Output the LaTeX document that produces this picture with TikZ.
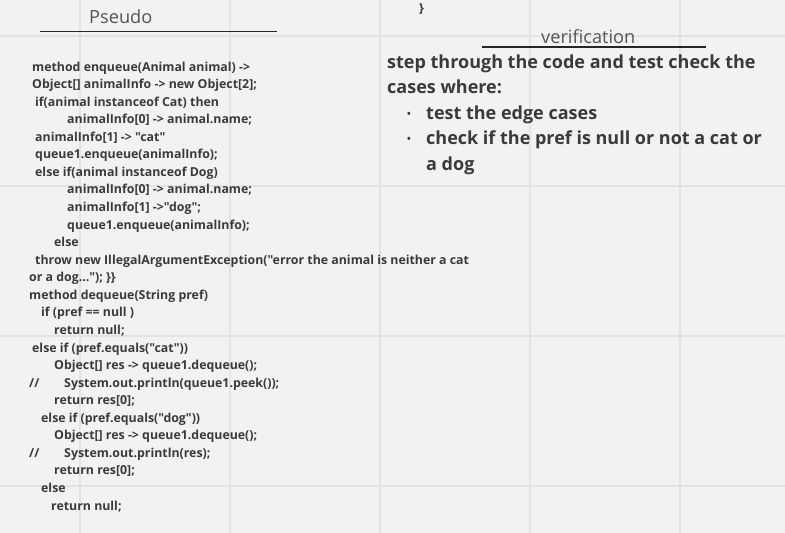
\documentclass[tikz,border=0pt]{standalone}
\usepackage{fontspec}
\setmainfont{Open Sans}[Ligatures=TeXOff]
\definecolor{boardbg}{HTML}{F2F2F2}
\definecolor{gridgray}{HTML}{E3E3E3}
\definecolor{codegray}{HTML}{3A3A3A}
\definecolor{headgray}{HTML}{555555}
\tikzset{
  codeline/.style={anchor=base west, inner sep=0pt, text=codegray,
    font=\fontsize{12.35}{14}\selectfont\bfseries},
  heading/.style={anchor=base west, inner sep=0pt, text=headgray,
    font=\fontsize{18.2}{21}\selectfont},
  notetext/.style={anchor=base west, inner sep=0pt, text=codegray,
    font=\fontsize{18}{21}\selectfont\bfseries},
  notebullet/.style={anchor=base west, inner sep=0pt, text=codegray,
    font=\fontsize{10}{12}\selectfont\bfseries},
  gridline/.style={gridgray, line width=1.2pt},
  underline/.style={black!85, line width=1.3pt}
}
\begin{document}
\begin{tikzpicture}[x=1pt,y=-1pt]
\useasboundingbox (0,0) rectangle (785,533);
\fill [boardbg](0,0) rectangle (785,533);
% board grid
\draw [gridline](80,0) -- (80,533);
\draw [gridline](230,0) -- (230,533);
\draw [gridline](380,0) -- (380,533);
\draw [gridline](530,0) -- (530,533);
\draw [gridline](680,0) -- (680,533);
\draw [gridline](0,36) -- (785,36);
\draw [gridline](0,186) -- (785,186);
\draw [gridline](0,336) -- (785,336);
\draw [gridline](0,486) -- (785,486);
% headings
\node [heading] (pseudo) at (89,23.5) {Pseudo};
\draw [underline](40,31.5) -- (276.5,31.5);
\node [codeline] (brace) at (419,12) {\}};
\node [heading] (verif) at (541,43) {verification};
\draw [underline](482,47) -- (706,47);
% verification notes
\node [notetext] (v1) at (387,68) {step through the code and test check the};
\node [notetext] (v2) at (387,93.5) {cases where:};
\node [notebullet] (b1) at (407,117) {•};
\node [notetext] (v3) at (426,119) {test the edge cases};
\node [notebullet] (b2) at (407,142.5) {•};
\node [notetext] (v4) at (426,144.5) {check if the pref is null or not a cat or};
\node [notetext] (v5) at (426,170) {a dog};
% pseudo code
\node [codeline] (c1) at (32,71) {method enqueue(Animal animal) ->};
\node [codeline] (c2) at (32,88.6) {Object[] animalInfo -> new Object[2];};
\node [codeline] (c3) at (35,106.1) {if(animal instanceof Cat) then};
\node [codeline] (c4) at (67,123.7) {animalInfo[0] -> animal.name;};
\node [codeline] (c5) at (35,141.2) {animalInfo[1] -> "cat"};
\node [codeline] (c6) at (35,158.8) {queue1.enqueue(animalInfo);};
\node [codeline] (c7) at (35,176.4) {else if(animal instanceof Dog)};
\node [codeline] (c8) at (67,193.9) {animalInfo[0] -> animal.name;};
\node [codeline] (c9) at (67,211.5) {animalInfo[1] ->"dog";};
\node [codeline] (c10) at (67,229) {queue1.enqueue(animalInfo);};
\node [codeline] (c11) at (54,246.6) {else};
\node [codeline] (c12) at (35,264.2) {throw new IllegalArgumentException("error the animal is neither a cat};
\node [codeline] (c13) at (29,281.7) {or a dog..."); \}\}};
\node [codeline] (c14) at (29,299.3) {method dequeue(String pref)};
\node [codeline] (c15) at (41,316.8) {if (pref == null )};
\node [codeline] (c16) at (54,334.4) {return null;};
\node [codeline] (c17) at (32,352) {else if (pref.equals("cat"))};
\node [codeline] (c18) at (54,369.5) {Object[] res -> queue1.dequeue();};
\node [codeline] (s19) at (29,387.1) {//};
\node [codeline] (c19) at (64,387.1) {System.out.println(queue1.peek());};
\node [codeline] (c20) at (54,404.6) {return res[0];};
\node [codeline] (c21) at (41,422.2) {else if (pref.equals("dog"))};
\node [codeline] (c22) at (54,439.8) {Object[] res -> queue1.dequeue();};
\node [codeline] (s23) at (29,457.3) {//};
\node [codeline] (c23) at (64,457.3) {System.out.println(res);};
\node [codeline] (c24) at (54,474.9) {return res[0];};
\node [codeline] (c25) at (41,492.4) {else};
\node [codeline] (c26) at (51,510) {return null;};
\end{tikzpicture}
\end{document}
